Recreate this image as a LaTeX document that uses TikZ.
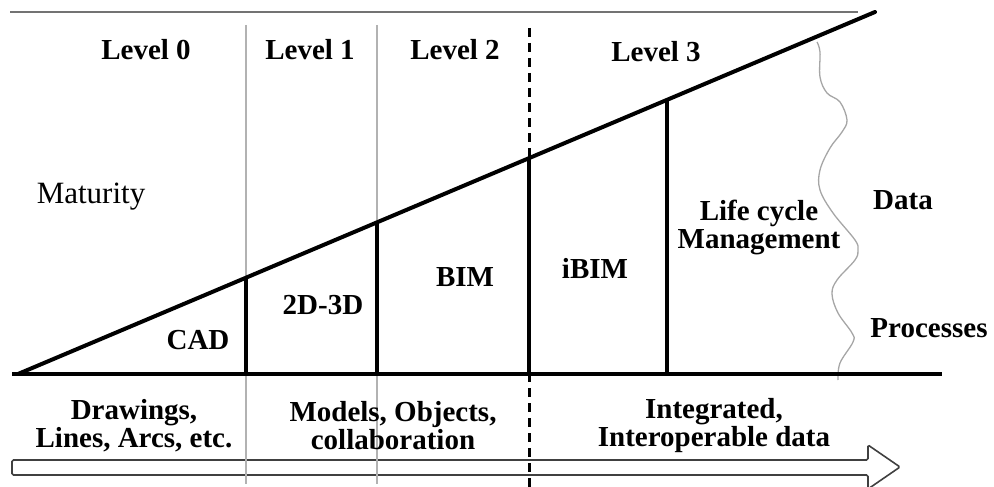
\documentclass[tikz,border=0pt]{standalone}
\usepackage{fontspec}
\setmainfont{Liberation Serif}
\usetikzlibrary{calc}
\begin{document}
\begin{tikzpicture}[x=1pt,y=-1pt,
  lbl/.style={font=\fontsize{29}{28}\selectfont\bfseries, inner sep=0pt, align=center},
  reg/.style={font=\fontsize{31}{30}\selectfont, inner sep=0pt},
  heavy/.style={line width=4pt, black},
  post/.style={line width=3.5pt, black},
  guide/.style={line width=1.3pt, black!30},
  dashline/.style={line width=3pt, black, dash pattern=on 9pt off 6pt},
  hollow/.style={line width=1.6pt, black!75, fill=white, rounded corners=1.5pt},
  wave/.style={line width=1.3pt, black!35}]
\useasboundingbox (0,0) rectangle (994,487);

% coordinates
\coordinate (A) at (18,374);
\coordinate (B) at (875,12);
\coordinate (baseL) at (12,374);
\coordinate (baseR) at (942,374);
\coordinate (topL) at (10,12);
\coordinate (topR) at (858,12);

% bottom hollow arrow
\draw[hollow] (12,460) -- (868,460) -- (868,445) -- (900,467) -- (868,489) -- (868,475) -- (12,475) -- cycle;

% top gray rule
\draw[line width=2.5pt, black!55] (topL) -- (topR);

% thin guides
\coordinate (g1t) at (246,25); \coordinate (g1b) at (246,484);
\coordinate (g2t) at (377,25); \coordinate (g2b) at (377,484);
\draw[guide] (g1t) -- (g1b);
\draw[guide] (g2t) -- (g2b);

% dashed separator
\coordinate (dt) at (529,28); \coordinate (db) at (529,487);
\draw[dashline] (dt) -- (db);

% wavy line
\draw[wave] plot[smooth, tension=0.6] coordinates {(817,42) (820,52) (820,77) (827,93) (840,102) (847,120) (842,132) (830,148) (820,170) (820,190) (833,213) (855,240) (858,250) (855,260) (837,280) (832,294) (838,313) (852,333) (853,342) (840,363) (838,380)};

% diagonal and baseline
\draw[heavy, line cap=round] (A) -- (B);
\draw[heavy] (baseL) -- (baseR);

% posts
\coordinate (p1) at ($(A)!0.2660!(B)$);
\coordinate (p2) at ($(A)!0.4189!(B)$);
\coordinate (p3) at ($(A)!0.5963!(B)$);
\coordinate (p4) at ($(A)!0.7573!(B)$);
\foreach \p in {p1,p2,p3,p4} \draw[post] (\p) -- (\p |- baseL);

% labels
\node[lbl] (l0) at (146,50) {Level 0};
\node[lbl] (l1) at (310,50) {Level 1};
\node[lbl] (l2) at (455,50) {Level 2};
\node[lbl] (l3) at (656,52) {Level 3};
\node[reg] (mat) at (91,197) {Maturity};
\node[lbl] (cad) at (198,340) {CAD};
\node[lbl] (d23) at (323,305) {2D-3D};
\node[lbl] (bim) at (465,277) {BIM};
\node[lbl] (ibim) at (595,268) {iBIM};
\node[lbl] (lcm) at (759,227) {Life cycle\\Management};
\node[lbl] (data) at (903,200) {Data};
\node[lbl] (proc) at (929,328) {Processes};
\node[lbl] (b0) at (134,426) {Drawings,\\Lines, Arcs, etc.};
\node[lbl] (b1) at (393,426) {Models, Objects,\\collaboration};
\node[lbl] (b2) at (714,426) {Integrated,\\Interoperable data};
\end{tikzpicture}
\end{document}
